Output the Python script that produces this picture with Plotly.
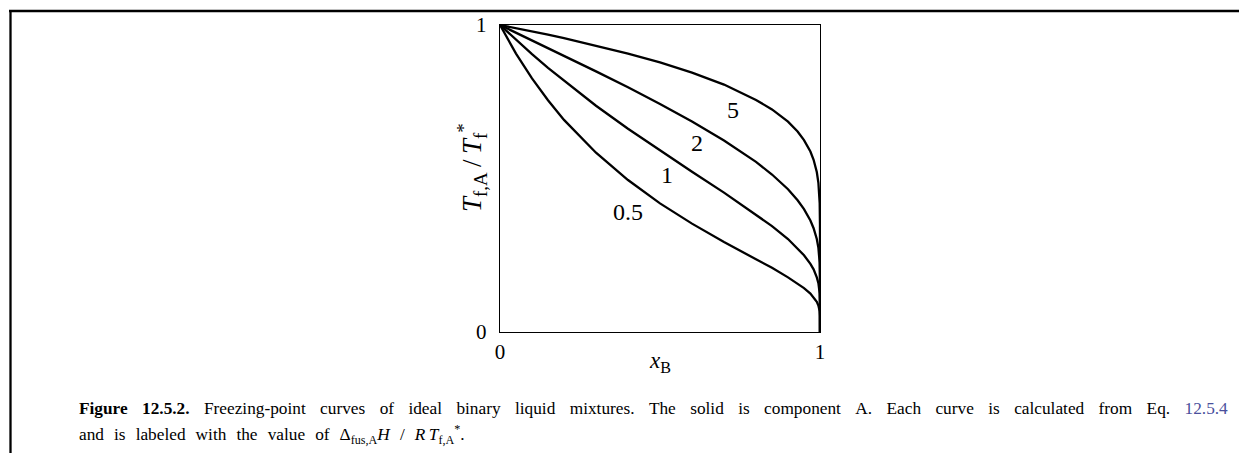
import plotly.graph_objects as go

# Mole fraction of B (x axis) and reduced freezing temperature
x_B = [0, 0.05, 0.1, 0.15, 0.2, 0.3, 0.4, 0.5, 0.6, 0.7, 0.8, 0.85, 0.9, 0.93,
       0.95, 0.97, 0.98, 0.99, 0.995, 0.999, 0.9999, 1.0]

T_05 = [1, 0.907, 0.826, 0.755, 0.691, 0.584, 0.495, 0.419, 0.353, 0.293, 0.237,
        0.209, 0.178, 0.158, 0.143, 0.125, 0.113, 0.098, 0.086, 0.068, 0.052, 0.0]
T_1 = [1, 0.951, 0.905, 0.860, 0.818, 0.737, 0.662, 0.591, 0.522, 0.454, 0.383,
       0.345, 0.303, 0.273, 0.250, 0.222, 0.204, 0.178, 0.159, 0.126, 0.098, 0.0]
T_2 = [1, 0.975, 0.950, 0.925, 0.900, 0.849, 0.797, 0.743, 0.686, 0.624, 0.554,
       0.513, 0.465, 0.429, 0.400, 0.363, 0.338, 0.303, 0.274, 0.225, 0.178, 0.0]
T_5 = [1, 0.990, 0.979, 0.969, 0.957, 0.933, 0.907, 0.878, 0.845, 0.806, 0.756,
       0.725, 0.685, 0.653, 0.625, 0.588, 0.561, 0.521, 0.486, 0.420, 0.352, 0.0]

curve_labels = ["0.5", "1", "2", "5"]
tick_vals = [0, 1]
tick_text = ["0", "1"]

W, H = 1247, 453
OFF = 8  # page body margin offset of the figure
SERIF = "Liberation Serif, Times New Roman, serif"


def px(x):
    return (x - OFF) / W


def py(y):
    return 1 - (y - OFF) / H


fig = go.Figure()
for ys in [T_05, T_1, T_2, T_5]:
    fig.add_trace(go.Scatter(x=x_B, y=ys, mode="lines",
                             line=dict(color="black", width=2.3),
                             showlegend=False, hoverinfo="skip"))

# plot area in page pixels
L, R, T, B = 500, 820, 25, 332
fig.update_layout(
    width=W, height=H, autosize=False,
    margin=dict(l=0, r=0, t=0, b=0, pad=0),
    paper_bgcolor="white", plot_bgcolor="white",
    font=dict(family=SERIF, color="black"),
    xaxis=dict(domain=[px(L), px(R)], range=[0, 1], showgrid=False, zeroline=False,
               automargin=False,
               showline=True, mirror=True, linecolor="black", linewidth=1.4,
               tickvals=tick_vals, ticktext=tick_text, ticks="",
               ticklabelstandoff=1, tickfont=dict(size=21, family=SERIF)),
    yaxis=dict(domain=[py(B), py(T)], range=[0, 1], showgrid=False, zeroline=False,
               automargin=False,
               showline=True, mirror=True, linecolor="black", linewidth=1.4,
               tickvals=tick_vals, ticktext=tick_text, ticks="",
               ticklabelstandoff=8, tickfont=dict(size=21, family=SERIF)),
)

# curve labels
label_pos = [(0.40, 0.391), (0.522, 0.511), (0.616, 0.616), (0.728, 0.723)]
for txt, (lx, ly) in zip(curve_labels, label_pos):
    fig.add_annotation(x=lx, y=ly, xref="x", yref="y", text=txt, showarrow=False,
                       font=dict(size=24, family=SERIF), xanchor="center", yanchor="middle")

# axis titles
fig.add_annotation(x=px(660), y=py(362), xref="paper", yref="paper",
                   text="<i>x</i><sub>B</sub>", showarrow=False,
                   font=dict(size=23, family=SERIF), xanchor="center", yanchor="middle")
fig.add_annotation(x=px(472), y=py(168), xref="paper", yref="paper",
                   text="<i>T</i><sub>f,A</sub>\u2009/\u2009<i>T</i><sub>f</sub><sup>*</sup>",
                   showarrow=False, textangle=-90,
                   font=dict(size=27, family=SERIF), xanchor="center", yanchor="middle")

# caption (justified first line emulated with wider word gaps)
gap1 = " \u2002\u200a"
line1_words = ["<b>Figure", "12.5.2.</b>", "Freezing-point", "curves", "of", "ideal", "binary",
               "liquid", "mixtures.", "The", "solid", "is", "component", "A.", "Each", "curve",
               "is", "calculated", "from", "Eq.", "<span style='color:#4a4f9c'>12.5.4</span>"]
gap2 = "\u2002\u200a"
line2_words = ["and", "is", "labeled", "with", "the", "value", "of",
               "\u0394<sub>fus,A</sub><i>H</i>", "/",
               "<i>R</i>\u2009<i>T</i><sub>f,A</sub><sup>*</sup>."]
fig.add_annotation(x=px(77), y=py(408), xref="paper", yref="paper",
                   text=gap1.join(line1_words),
                   showarrow=False, font=dict(size=17.3, family=SERIF),
                   xanchor="left", yanchor="middle", align="left")
fig.add_annotation(x=px(77), y=py(434), xref="paper", yref="paper",
                   text=gap2.join(line2_words),
                   showarrow=False, font=dict(size=17.3, family=SERIF),
                   xanchor="left", yanchor="middle", align="left")

# page frame lines
fig.add_shape(type="line", xref="paper", yref="paper", x0=px(9), x1=1, y0=py(11), y1=py(11),
              line=dict(color="black", width=2.3))
fig.add_shape(type="line", xref="paper", yref="paper", x0=px(10.5), x1=px(10.5), y0=py(10), y1=0,
              line=dict(color="black", width=2.3))

fig.write_html("out.html")
